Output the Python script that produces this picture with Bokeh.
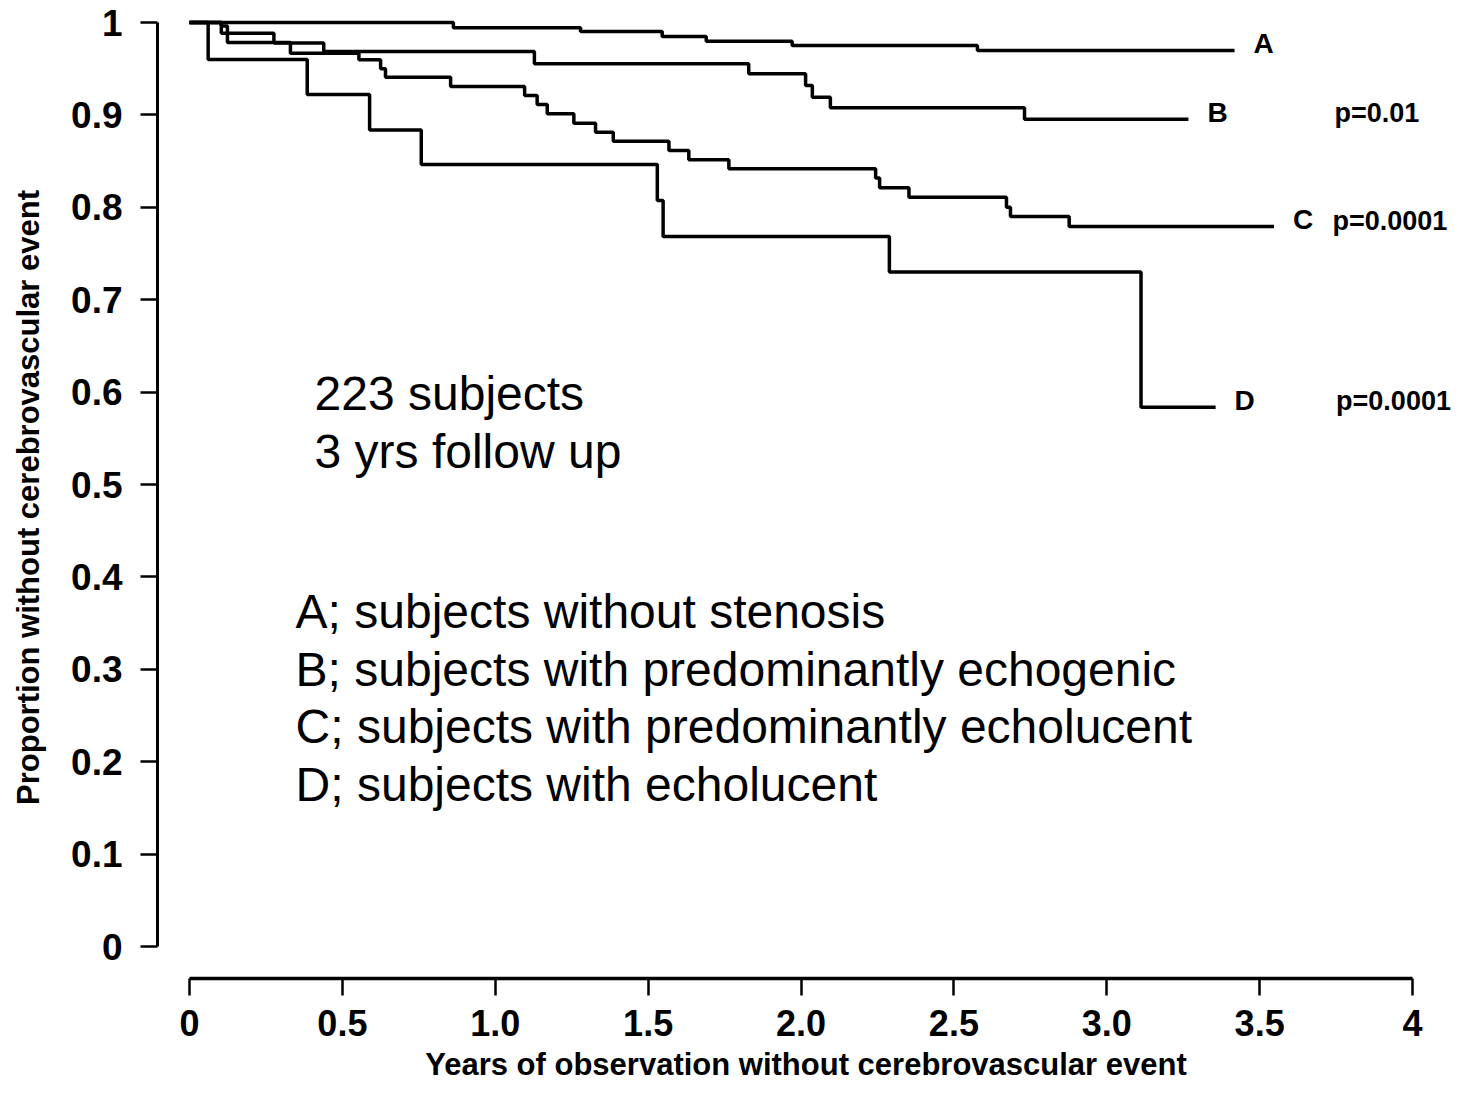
from bokeh.plotting import figure
from bokeh.models import Range1d, FixedTicker, Label
from bokeh.embed import file_html
from bokeh.resources import INLINE

# ---- data ----
time_A = [0, 0.863, 1.279, 1.546, 1.690, 1.971, 2.577, 3.418]
surv_A = [1.0, 0.9943, 0.9903, 0.9848, 0.9798, 0.9751, 0.9697, 0.9697]

time_B = [0, 0.104, 0.276, 0.439, 1.128, 1.829, 2.015, 2.037, 2.096, 2.731, 3.267]
surv_B = [1.0, 0.9884, 0.9778, 0.9686, 0.9553, 0.9445, 0.9318, 0.9192, 0.9077, 0.8953, 0.8953]

time_C = [0, 0.104, 0.124, 0.330, 0.554, 0.625, 0.641, 0.854, 1.096, 1.137, 1.170, 1.257,
          1.328, 1.386, 1.568, 1.633, 1.764, 2.244, 2.257, 2.353, 2.672, 2.685, 2.877, 3.547]
surv_C = [1.0, 0.9962, 0.9784, 0.9668, 0.9596, 0.9499, 0.9408, 0.9307, 0.9210, 0.9113, 0.9012, 0.8910,
          0.8813, 0.8715, 0.8615, 0.8514, 0.8417, 0.8317, 0.8211, 0.8109, 0.8001, 0.7900, 0.7792, 0.7792]

time_D = [0, 0.061, 0.385, 0.589, 0.758, 1.530, 1.549, 2.289, 3.112, 3.356]
surv_D = [1.0, 0.960, 0.9221, 0.8837, 0.8463, 0.8074, 0.7684, 0.7300, 0.5837, 0.5837]

group_names = ["A", "B", "C", "D"]
p_values = ["", "p=0.01", "p=0.0001", "p=0.0001"]

x_ticks = [0, 0.5, 1, 1.5, 2, 2.5, 3, 3.5, 4]
x_tick_labels = ["0", "0.5", "1.0", "1.5", "2.0", "2.5", "3.0", "3.5", "4"]
y_ticks = [0, 0.1, 0.2, 0.3, 0.4, 0.5, 0.6, 0.7, 0.8, 0.9, 1]
y_tick_labels = ["0", "0.1", "0.2", "0.3", "0.4", "0.5", "0.6", "0.7", "0.8", "0.9", "1"]

info_lines = ["223 subjects", "3 yrs follow up"]
legend_lines = [
    "A; subjects without stenosis",
    "B; subjects with predominantly echogenic",
    "C; subjects with predominantly echolucent",
    "D; subjects with echolucent",
]

FONT = "Liberation Sans"
BLACK = "#000000"

p = figure(width=1454, height=1084, output_backend="svg", toolbar_location=None,
           x_range=Range1d(-0.1047, 4.1373), y_range=Range1d(-0.0346, 1.0065),
           min_border_left=157, min_border_right=0, min_border_top=16, min_border_bottom=106)
p.outline_line_color = None
p.grid.visible = False
p.background_fill_color = "white"
p.border_fill_color = "white"

# x axis
xa = p.xaxis[0]
xa.bounds = (0, 4)
xa.ticker = FixedTicker(ticks=x_ticks)
xa.major_label_overrides = dict(zip(x_ticks, x_tick_labels))
xa.minor_tick_line_color = None
xa.major_tick_in = 0
xa.major_tick_out = 17
xa.axis_line_width = 3.5
xa.axis_line_color = BLACK
xa.major_tick_line_width = 2.5
xa.major_tick_line_color = BLACK
xa.major_label_text_font = FONT
xa.major_label_text_font_style = "bold"
xa.major_label_text_font_size = "36px"
xa.major_label_text_color = BLACK
xa.major_label_standoff = 14
xa.axis_label = "Years of observation without cerebrovascular event"
xa.axis_label_text_font = FONT
xa.axis_label_text_font_style = "bold"
xa.axis_label_text_font_size = "31px"
xa.axis_label_text_color = BLACK
xa.axis_label_standoff = 8

# y axis
ya = p.yaxis[0]
ya.bounds = (0, 1)
ya.ticker = FixedTicker(ticks=y_ticks)
ya.major_label_overrides = dict(zip(y_ticks, y_tick_labels))
ya.minor_tick_line_color = None
ya.major_tick_in = 0
ya.major_tick_out = 17
ya.axis_line_width = 3
ya.axis_line_color = BLACK
ya.major_tick_line_width = 2.5
ya.major_tick_line_color = BLACK
ya.major_label_text_font = FONT
ya.major_label_text_font_style = "bold"
ya.major_label_text_font_size = "37px"
ya.major_label_text_color = BLACK
ya.major_label_standoff = 18
ya.axis_label = "Proportion without cerebrovascular event"
ya.axis_label_text_font = FONT
ya.axis_label_text_font_style = "bold"
ya.axis_label_text_font_size = "31px"
ya.axis_label_text_color = BLACK
ya.axis_label_standoff = 22

# survival curves
curves = [(time_A, surv_A), (time_B, surv_B), (time_C, surv_C), (time_D, surv_D)]
for (t, s) in curves:
    p.step(x=t, y=s, mode="after", line_width=3.5, line_color=BLACK)

# curve end labels
for name, (t, s) in zip(group_names, curves):
    p.add_layout(Label(x=t[-1], y=s[-1], text=name, x_offset=19, y_offset=7,
                       text_baseline="middle", text_align="left",
                       text_font=FONT, text_font_style="bold",
                       text_font_size="28px", text_color=BLACK))

# p-values (to the right of the curve labels)
p_x = [None, 3.745, 3.738, 3.750]
for px_, pv, (t, s) in zip(p_x, p_values, curves):
    if not pv:
        continue
    p.add_layout(Label(x=px_, y=s[-1], text=pv, y_offset=6,
                       text_baseline="middle", text_align="left",
                       text_font=FONT, text_font_style="bold",
                       text_font_size="27px", text_color=BLACK))

# info text
for i, line in enumerate(info_lines):
    p.add_layout(Label(x=0.409, y=0.598, y_offset=-58 * i, text=line,
                       text_baseline="middle", text_align="left",
                       text_font=FONT, text_font_style="normal",
                       text_font_size="48px", text_color=BLACK))

# legend text
for i, line in enumerate(legend_lines):
    p.add_layout(Label(x=0.347, y=0.3626, y_offset=-57.7 * i, text=line,
                       text_baseline="middle", text_align="left",
                       text_font=FONT, text_font_style="normal",
                       text_font_size="48px", text_color=BLACK))

open("out.html", "w").write(file_html(p, INLINE))
